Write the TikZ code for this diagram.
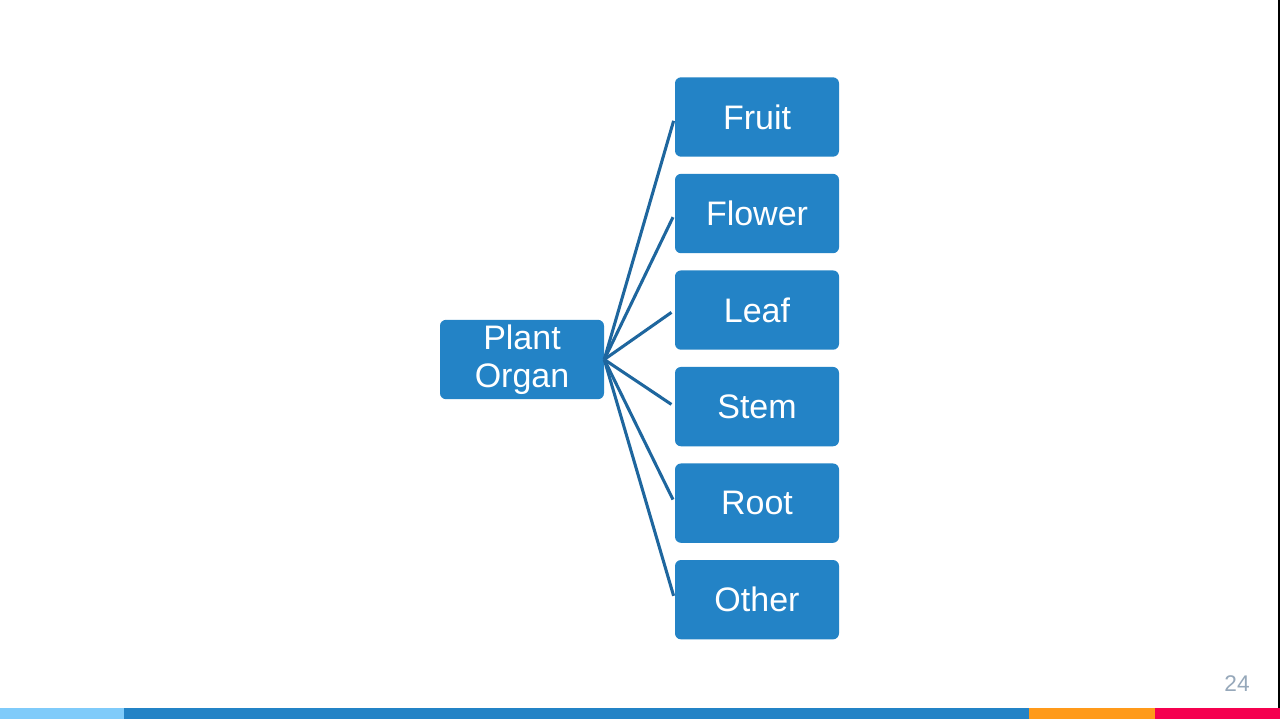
\documentclass[tikz,border=0pt]{standalone}
\usepackage{fontspec}
\setmainfont{Liberation Sans}
\usetikzlibrary{positioning}
\definecolor{boxblue}{RGB}{35,131,198}
\definecolor{linkblue}{RGB}{30,102,158}
\definecolor{barlight}{RGB}{127,203,250}
\definecolor{barorange}{RGB}{255,154,26}
\definecolor{barred}{RGB}{245,0,79}
\definecolor{pagegray}{RGB}{150,168,186}
\tikzset{
  organbox/.style={fill=boxblue, rounded corners=4.5pt, minimum width=123pt, minimum height=59.5pt,
    inner sep=0pt, text=white, align=center, font=\fontsize{25.5}{28.5}\selectfont},
  link/.style={draw=linkblue, line width=2.3pt, shorten >=3pt}
}
\begin{document}
\begin{tikzpicture}[x=0.75pt,y=-0.75pt]
    \useasboundingbox (0,0) rectangle (1280,719);
    \fill[white] (0,0) rectangle (1280,719);
    % colour bar at the bottom
    \fill[barlight] (0,708) rectangle (124,719);
    \fill[boxblue] (124,708) rectangle (1029,719);
    \fill[barorange] (1029,708) rectangle (1155,719);
    \fill[barred] (1155,708) rectangle (1280,719);
    \draw[black, line width=1.5pt] (1279,0) -- (1279,708);
    \node[text=pagegray, font=\fontsize{17}{20}\selectfont] (page) at (1237,684) {24};
    % boxes
    \node[organbox] (plant) at (522,359.5) {Plant\\Organ};
    \node[organbox] (fruit) at (757,117) {Fruit};
    \node[organbox, below=12.5pt of fruit] (flower) {Flower};
    \node[organbox, below=12.5pt of flower] (leaf) {Leaf};
    \node[organbox, below=12.5pt of leaf] (stem) {Stem};
    \node[organbox, below=12.5pt of stem] (root) {Root};
    \node[organbox, below=12.5pt of root] (other) {Other};
    % connectors
    \draw[link] (plant.east) -- (fruit.west);
    \draw[link] (plant.east) -- (flower.west);
    \draw[link] (plant.east) -- (leaf.west);
    \draw[link] (plant.east) -- (stem.west);
    \draw[link] (plant.east) -- (root.west);
    \draw[link] (plant.east) -- (other.west);
\end{tikzpicture}
\end{document}
